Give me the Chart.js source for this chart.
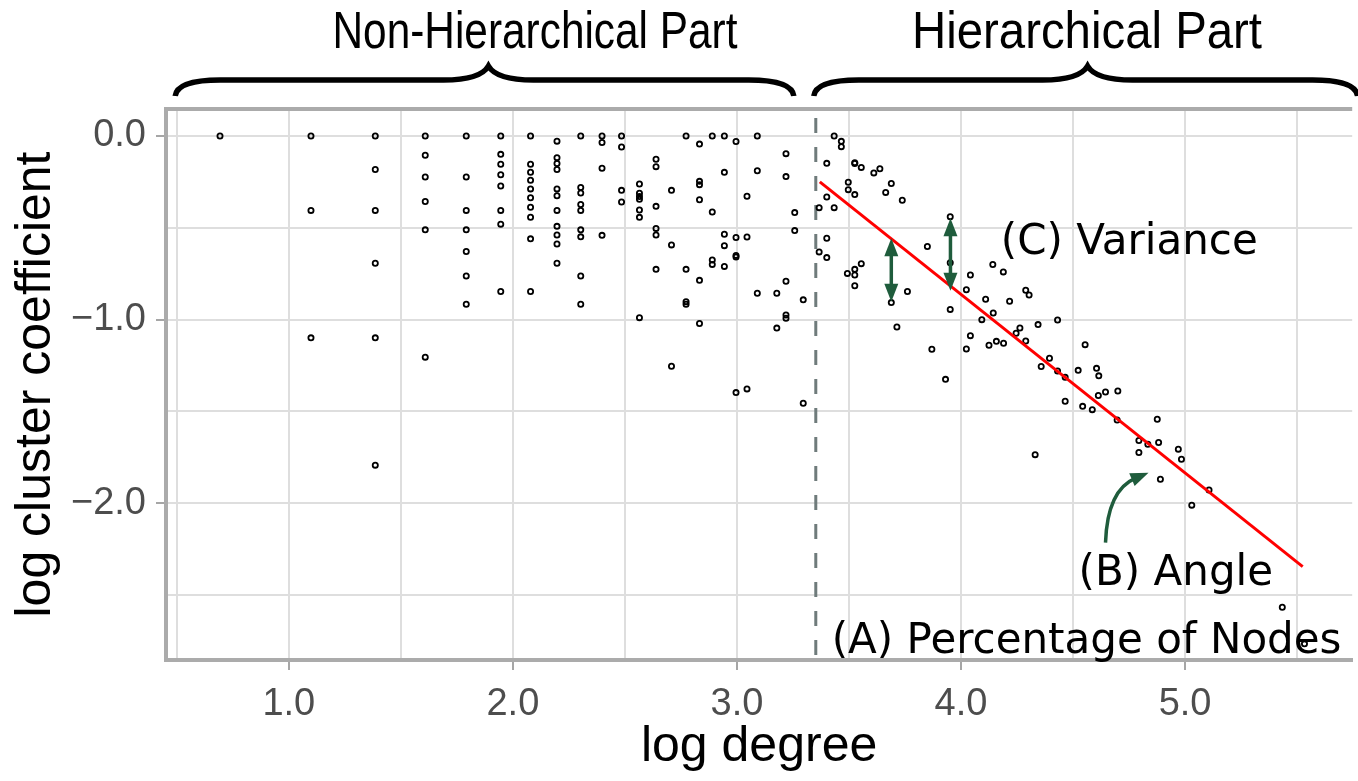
<!DOCTYPE html>
<html lang="en">
<head>
<meta charset="UTF-8" />
<title>log degree vs log cluster coefficient</title>
<script src="https://cdn.jsdelivr.net/npm/chart.js"></script>
<style>
  html, body { margin: 0; padding: 0; background: #fff; }
</style>
</head>
<body>
<canvas id="grafico" width="1358" height="781"></canvas>
<script>
// nodes left of the split (non-hierarchical part): ln(degree), ln(clustering)
const leftDegree = [
  0.693,
  1.099, 1.099, 1.099,
  1.386, 1.386, 1.386, 1.386, 1.386, 1.386,
  1.609, 1.609, 1.609, 1.609, 1.609, 1.609,
  1.792, 1.792, 1.792, 1.792, 1.792, 1.792, 1.792,
  1.946, 1.946, 1.946, 1.946, 1.946, 1.946, 1.946, 1.946,
  2.079, 2.079, 2.079, 2.079, 2.079, 2.079, 2.079, 2.079, 2.079, 2.079,
  2.197, 2.197, 2.197, 2.197, 2.197, 2.197, 2.197, 2.197, 2.197, 2.197, 2.197,
  2.303, 2.303, 2.303, 2.303, 2.303, 2.303, 2.303, 2.303, 2.303,
  2.398, 2.398, 2.398, 2.398,
  2.485, 2.485, 2.485, 2.485,
  2.565, 2.565, 2.565, 2.565, 2.565, 2.565, 2.565,
  2.639, 2.639, 2.639, 2.639, 2.639, 2.639,
  2.708, 2.708, 2.708,
  2.773, 2.773, 2.773, 2.773,
  2.833, 2.833, 2.833, 2.833, 2.833, 2.833,
  2.890, 2.890, 2.890, 2.890,
  2.944, 2.944, 2.944, 2.944, 2.944,
  2.996, 2.996, 2.996, 2.996, 2.996,
  3.045, 3.045, 3.045,
  3.091, 3.091, 3.091,
  3.178, 3.178,
  3.219, 3.219, 3.219, 3.219, 3.219,
  3.258, 3.258,
  3.296, 3.296
];
const leftCluster = [
  0,
  0, -0.405, -1.099,
  0, -0.182, -0.405, -0.693, -1.099, -1.792,
  0, -0.105, -0.223, -0.357, -0.511, -1.204,
  0, -0.223, -0.405, -0.511, -0.629, -0.762, -0.916,
  0, -0.100, -0.154, -0.211, -0.272, -0.405, -0.480, -0.847,
  0, -0.154, -0.197, -0.241, -0.288, -0.336, -0.388, -0.442, -0.560, -0.847,
  -0.028, -0.118, -0.150, -0.182, -0.288, -0.325, -0.405, -0.492, -0.539, -0.588, -0.693,
  0, -0.280, -0.310, -0.373, -0.405, -0.511, -0.549, -0.762, -0.916,
  0, -0.035, -0.176, -0.541,
  0, -0.060, -0.296, -0.359,
  -0.261, -0.312, -0.330, -0.345, -0.403, -0.443, -0.989,
  -0.127, -0.167, -0.383, -0.503, -0.539, -0.726,
  -0.296, -0.593, -1.254,
  0, -0.726, -0.902, -0.916,
  -0.044, -0.247, -0.265, -0.347, -0.786, -1.021,
  0, -0.414, -0.675, -0.699,
  0, -0.198, -0.535, -0.597, -0.710,
  -0.030, -0.553, -0.650, -0.659, -1.397,
  -0.328, -0.550, -1.377,
  0, -0.189, -0.856,
  -0.856, -1.046,
  -0.096, -0.221, -0.791, -0.974, -0.992,
  -0.417, -0.515,
  -0.892, -1.455
];

// nodes right of the split (hierarchical part)
const rightDegree = [
  3.367, 3.367, 3.401, 3.401, 3.401, 3.401, 3.434, 3.434, 3.466, 3.466,
  3.493, 3.497, 3.497, 3.526, 3.526, 3.526, 3.526, 3.526, 3.526,
  3.555, 3.555, 3.611, 3.638, 3.664, 3.689, 3.689, 3.714, 3.738, 3.761,
  3.850, 3.870, 3.931, 3.952, 3.952, 3.952, 4.024, 4.024, 4.042, 4.042,
  4.093, 4.110, 4.125, 4.142, 4.144, 4.158, 4.189, 4.190, 4.217, 4.246,
  4.263, 4.289, 4.289, 4.304, 4.331, 4.344, 4.358, 4.395, 4.431, 4.431,
  4.465, 4.465, 4.523, 4.543, 4.554, 4.586, 4.605, 4.613, 4.615, 4.645,
  4.697, 4.700, 4.794, 4.794, 4.834, 4.876, 4.882, 4.890, 4.970, 4.984,
  5.030, 5.107, 5.434, 5.533
];
const rightCluster = [
  -0.390, -0.631, -0.149, -0.332, -0.557, -0.662, 0, -0.390, -0.029, -0.058,
  -0.748, -0.252, -0.292, -0.145, -0.150, -0.319, -0.726, -0.757, -0.815,
  -0.171, -0.695, -0.201, -0.178, -0.307, -0.259, -0.907, -1.040, -0.350, -0.847,
  -0.602, -1.161, -1.325, -0.439, -0.690, -0.944, -0.837, -1.160, -0.757, -1.087,
  -1.000, -0.889, -1.139, -0.700, -0.964, -1.118, -0.740, -1.128, -0.900, -1.074,
  -1.045, -0.840, -1.116, -0.866, -1.735, -1.027, -1.255, -1.210, -1.002, -1.279,
  -1.314, -1.444, -1.276, -1.472, -1.136, -1.490, -1.265, -1.413, -1.306, -1.394,
  -1.546, -1.388, -1.658, -1.723, -1.678, -1.542, -1.669, -1.869, -1.705, -1.760,
  -2.010, -1.927, -2.566, -2.765
];

// fitted line over the hierarchical part
const fitDegree = [3.37, 5.525];
const fitCluster = [-0.25, -2.345];

const splitAt = 3.352;

const xTicks = [0.5, 1.0, 1.5, 2.0, 2.5, 3.0, 3.5, 4.0, 4.5, 5.0, 5.5];
const yTicks = [-2.5, -2.0, -1.5, -1.0, -0.5, 0.0];

const pts = (xs, ys) => xs.map((v, i) => ({ x: v, y: ys[i] }));
const fmt = v => (v < 0 ? '\u2212' : '') + Math.abs(v).toFixed(1);
const isMajor = v => Math.abs(v - Math.round(v)) < 1e-9;

const GREEN = '#1f5c3c';

function arrowHead(ctx, tx, ty, ang, len, half) {
  const bx = tx - len * Math.cos(ang), by = ty - len * Math.sin(ang);
  ctx.beginPath();
  ctx.moveTo(tx, ty);
  ctx.lineTo(bx + half * Math.sin(ang), by - half * Math.cos(ang));
  ctx.lineTo(bx - half * Math.sin(ang), by + half * Math.cos(ang));
  ctx.closePath();
  ctx.fill();
}

function doubleArrow(ctx, x, y1, y2) {
  const len = 18;
  ctx.beginPath();
  ctx.moveTo(x, y1 + len - 2);
  ctx.lineTo(x, y2 - len + 2);
  ctx.stroke();
  arrowHead(ctx, x, y1, -Math.PI / 2, len, 7);
  arrowHead(ctx, x, y2, Math.PI / 2, len, 7);
}

function brace(ctx, x0, x1, xm, yEnd, yBar, yTip) {
  ctx.beginPath();
  ctx.moveTo(x0, yEnd);
  ctx.quadraticCurveTo(x0 + 2, yBar, x0 + 45, yBar);
  ctx.lineTo(xm - 45, yBar);
  ctx.quadraticCurveTo(xm - 8, yBar, xm, yTip);
  ctx.quadraticCurveTo(xm + 8, yBar, xm + 45, yBar);
  ctx.lineTo(x1 - 45, yBar);
  ctx.quadraticCurveTo(x1 - 2, yBar, x1, yEnd);
  ctx.stroke();
}

// condensed header text, squeezed to a given width
function narrowText(ctx, text, cx, y, width) {
  const w = ctx.measureText(text).width;
  ctx.save();
  ctx.translate(cx, y);
  ctx.scale(width / w, 1);
  ctx.textAlign = 'center';
  ctx.fillText(text, 0, 0);
  ctx.restore();
}

const extras = {
  id: 'extras',
  beforeDatasetsDraw(chart) {
    const { ctx, chartArea: a, scales: { x } } = chart;
    const sx = x.getPixelForValue(splitAt);
    ctx.save();
    ctx.strokeStyle = '#6f7b7b';
    ctx.lineWidth = 3;
    ctx.setLineDash([15, 14]);
    ctx.beginPath();
    ctx.moveTo(sx, a.top + 9);
    ctx.lineTo(sx, a.bottom);
    ctx.stroke();
    ctx.restore();
  },
  afterDraw(chart) {
    const { ctx, chartArea: a, scales: { x, y } } = chart;
    const px = v => x.getPixelForValue(v);
    const py = v => y.getPixelForValue(v);
    ctx.save();

    // panel top edge
    ctx.strokeStyle = '#ababab';
    ctx.lineWidth = 4;
    ctx.beginPath();
    ctx.moveTo(a.left - 2, a.top);
    ctx.lineTo(a.right, a.top);
    ctx.stroke();

    // variance arrows
    ctx.strokeStyle = GREEN;
    ctx.fillStyle = GREEN;
    ctx.lineWidth = 3.5;
    doubleArrow(ctx, px(3.689), py(-0.557), py(-0.902));
    doubleArrow(ctx, px(3.953), py(-0.448), py(-0.842));

    // curved arrow towards the fitted line
    const s = { x: px(4.645), y: py(-2.214) };
    const c = { x: px(4.653), y: py(-1.927) };
    const t = { x: px(4.837), y: py(-1.833) };
    const ang = Math.atan2(t.y - c.y, t.x - c.x);
    ctx.beginPath();
    ctx.moveTo(s.x, s.y);
    ctx.quadraticCurveTo(c.x, c.y, t.x - 14 * Math.cos(ang), t.y - 14 * Math.sin(ang));
    ctx.stroke();
    arrowHead(ctx, t.x, t.y, ang, 18, 7);

    // labels
    ctx.fillStyle = '#000';
    ctx.font = '42px "DejaVu Sans"';
    ctx.textAlign = 'left';
    ctx.textBaseline = 'alphabetic';
    ctx.fillText('(C) Variance', px(4.178), py(-0.642));
    ctx.fillText('(B) Angle', px(4.525), py(-2.444));
    ctx.fillText('(A) Percentage of Nodes', px(3.423), py(-2.815));

    // part headers with braces
    ctx.lineWidth = 5.5;
    ctx.strokeStyle = '#000';
    brace(ctx, px(0.493), px(3.254), px(1.891), 96, 80, 66);
    brace(ctx, px(3.343), px(5.77), px(4.565), 96, 80, 66);
    ctx.font = '52px "Liberation Sans", Arial, sans-serif';
    narrowText(ctx, 'Non-Hierarchical Part', 535, 48, 405);
    narrowText(ctx, 'Hierarchical Part', 1087, 48, 350);
    ctx.restore();
  }
};

const tickFont = { family: '"Liberation Sans", Arial, sans-serif', size: 38 };
const titleFont = { family: '"Liberation Sans", Arial, sans-serif', size: 50 };

new Chart(document.getElementById('grafico'), {
  data: {
    datasets: [
      {
        type: 'line',
        data: pts(fitDegree, fitCluster),
        borderColor: '#ff0000',
        borderWidth: 3,
        pointRadius: 0,
        fill: false,
        order: 0
      },
      {
        type: 'scatter',
        data: pts(leftDegree, leftCluster).concat(pts(rightDegree, rightCluster)),
        pointRadius: 2.6,
        borderWidth: 1.8,
        borderColor: '#000',
        backgroundColor: 'rgba(255,255,255,0)',
        order: 1
      }
    ]
  },
  options: {
    responsive: false,
    devicePixelRatio: 1,
    animation: false,
    layout: { padding: { top: 109, left: 0, right: 0, bottom: 0 } },
    plugins: { legend: { display: false }, tooltip: { enabled: false } },
    scales: {
      x: {
        type: 'linear',
        min: 0.452,
        max: 5.746,
        afterFit: s => { s.height = 121; },
        afterBuildTicks: s => { s.ticks = xTicks.map(v => ({ value: v })); },
        ticks: {
          autoSkip: false,
          maxRotation: 0,
          padding: 12,
          color: '#4d4d4d',
          font: tickFont,
          callback: v => (isMajor(v) ? fmt(v) : '')
        },
        grid: {
          color: '#dedede',
          lineWidth: 2,
          tickLength: 10,
          tickWidth: 2,
          tickColor: c => (c.tick && isMajor(c.tick.value) ? '#a6a6a6' : 'rgba(0,0,0,0)')
        },
        border: { color: '#ababab', width: 4 },
        title: { display: true, text: 'log degree', color: '#000', font: titleFont, padding: { top: 0, bottom: 4 } }
      },
      y: {
        type: 'linear',
        min: -2.853,
        max: 0.147,
        afterFit: s => { s.width = 166; },
        afterBuildTicks: s => { s.ticks = yTicks.map(v => ({ value: v })); },
        ticks: {
          autoSkip: false,
          padding: 10,
          color: '#4d4d4d',
          font: tickFont,
          callback: v => (isMajor(v) ? fmt(v) : '')
        },
        grid: {
          color: '#dedede',
          lineWidth: 2,
          tickLength: 10,
          tickWidth: 2,
          tickColor: c => (c.tick && isMajor(c.tick.value) ? '#a6a6a6' : 'rgba(0,0,0,0)')
        },
        border: { color: '#ababab', width: 4 },
        title: { display: true, text: 'log cluster coefficient', color: '#000', font: titleFont, padding: { top: 6, bottom: 0 } }
      }
    }
  },
  plugins: [extras]
});
</script>
</body>
</html>
